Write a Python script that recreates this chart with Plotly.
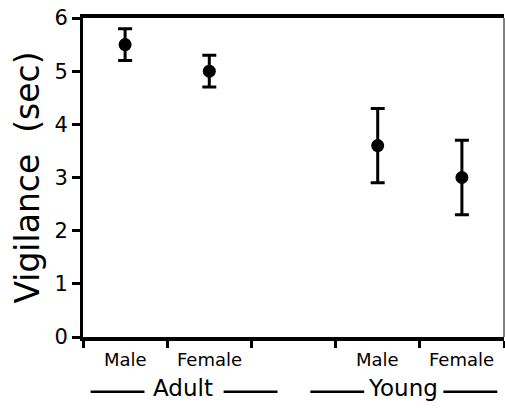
import plotly.graph_objects as go

# Data
groups = ["Adult", "Adult", "Young", "Young"]
sexes = ["Male", "Female", "Male", "Female"]
positions = [0.5, 1.5, 3.5, 4.5]
vigilance = [5.5, 5.0, 3.6, 3.0]
err = [0.3, 0.3, 0.7, 0.7]
group_names = ["Adult", "Young"]
group_centers = [1.19, 3.8]
y_ticks = [0, 1, 2, 3, 4, 5, 6]

FONT = "DejaVu Sans"

fig = go.Figure()
fig.add_trace(go.Scatter(
    x=positions, y=vigilance, mode="markers",
    marker=dict(size=13, color="black"),
    error_y=dict(type="data", array=err, visible=True, color="black",
                 thickness=3, width=7),
    showlegend=False,
))

annotations = []
for p, s in zip(positions, sexes):
    annotations.append(dict(x=p, y=0, xref="x", yref="paper", text=s,
                            showarrow=False, yanchor="top", yshift=-10,
                            font=dict(family=FONT, size=18, color="black")))
shapes = []
for name, c in zip(group_names, group_centers):
    annotations.append(dict(x=c, y=0, xref="x", yref="paper", text=name,
                            showarrow=False, yanchor="top", yshift=-36,
                            font=dict(family=FONT, size=23, color="black")))
    # side lines of the group label
    shapes.append(dict(type="line", xref="x", yref="paper",
                       x0=c - 1.10, x1=c - 0.46, y0=-0.172, y1=-0.172,
                       line=dict(color="black", width=2.5)))
    shapes.append(dict(type="line", xref="x", yref="paper",
                       x0=c + 0.48, x1=c + 1.12, y0=-0.172, y1=-0.172,
                       line=dict(color="black", width=2.5)))
# thin right border
shapes.append(dict(type="line", xref="paper", yref="paper", x0=1, x1=1, y0=0, y1=1,
                   line=dict(color="black", width=1)))

fig.update_layout(
    width=505, height=409,
    margin=dict(l=83, r=1, t=18, b=72),
    paper_bgcolor="white", plot_bgcolor="white",
    font=dict(family=FONT, color="black"),
    xaxis=dict(range=[0, 5], tickvals=[0, 1, 2, 3, 4, 5], ticktext=[""] * 6,
               ticks="outside", ticklen=7, tickwidth=3, tickcolor="black",
               showline=True, linewidth=3.5, linecolor="black", mirror=True,
               showgrid=False, zeroline=False),
    yaxis=dict(range=[0, 6], tickvals=y_ticks, ticks="outside", ticklen=8,
               tickwidth=3, tickcolor="black", showline=True, linewidth=3,
               linecolor="black", showgrid=False, zeroline=False,
               automargin=False,
               tickfont=dict(family=FONT, size=21, color="black"),
               title=dict(text="Vigilance  (sec)", standoff=5,
                          font=dict(family=FONT, size=33, color="black"))),
    annotations=annotations, shapes=shapes,
)

fig.write_html("out.html", config={"displayModeBar": False},
               post_script="document.body.style.margin='0';document.body.style.overflow='hidden';")
